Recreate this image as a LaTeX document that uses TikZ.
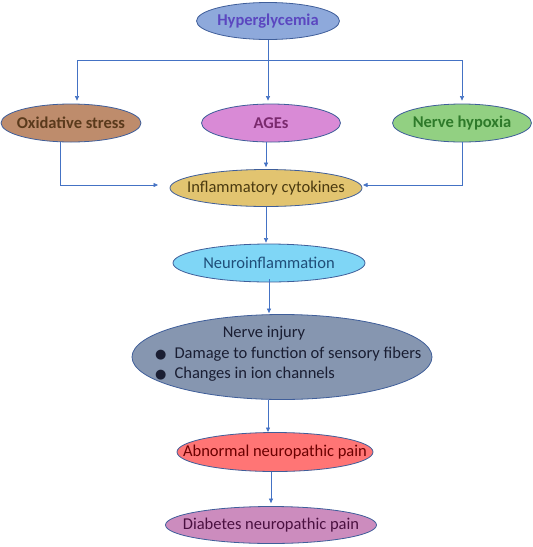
\documentclass[tikz,border=0pt]{standalone}
\usepackage{fontspec}
\setmainfont{Carlito}
\newfontfamily\dejavu{DejaVu Sans}
\usetikzlibrary{arrows.meta,shapes.geometric}
\definecolor{edge}{HTML}{3F5E9A}
\definecolor{conn}{HTML}{4472C4}
\definecolor{hypF}{HTML}{8EA9DB}\definecolor{hypT}{HTML}{5B47C0}
\definecolor{oxF}{HTML}{BE8C6C}\definecolor{oxT}{HTML}{5A3A1C}
\definecolor{agF}{HTML}{D98AD6}\definecolor{agT}{HTML}{7A2A6E}
\definecolor{nhF}{HTML}{92D082}\definecolor{nhT}{HTML}{2E7A2A}
\definecolor{infF}{HTML}{E2C470}\definecolor{infT}{HTML}{4A3A10}
\definecolor{neuF}{HTML}{7FD6F6}\definecolor{neuT}{HTML}{1F4E79}
\definecolor{injF}{HTML}{8696B0}\definecolor{injT}{HTML}{1A1E33}
\definecolor{abF}{HTML}{FF7575}\definecolor{abT}{HTML}{6B0000}
\definecolor{dbF}{HTML}{CC8CBE}\definecolor{dbT}{HTML}{4A1040}
\newcommand{\blt}{\raisebox{-0.5pt}{\dejavu\fontsize{13}{13}\selectfont ●}}
\begin{document}
\begin{tikzpicture}[x=1pt,y=-1pt,
  ell/.style={ellipse, draw=edge, line width=0.8pt, inner sep=0pt},
  bold/.style={font=\fontsize{16.5}{20}\selectfont\bfseries},
  reg/.style={font=\fontsize{16.5}{20}\selectfont},
  link/.style={draw=conn, line width=0.6pt},
  arr/.style={link, -{Triangle[length=4.5pt,width=4pt]}}]
\path[use as bounding box, fill=white] (0,0) rectangle (533,547);

\node[ell, bold, fill=hypF, text=hypT, minimum width=143pt, minimum height=37pt] (hyp) at (268,21) {\makebox[0pt]{Hyperglycemia}};
\node[ell, bold, fill=oxF, text=oxT, minimum width=140pt, minimum height=38pt] (ox) at (71,123) {\makebox[0pt]{Oxidative stress}};
\node[ell, bold, fill=agF, text=agT, minimum width=139pt, minimum height=38pt] (ag) at (271,123) {\makebox[0pt]{AGEs}};
\node[ell, bold, fill=nhF, text=nhT, minimum width=139pt, minimum height=38pt] (nh) at (462,123) {\makebox[0pt]{Nerve hypoxia}};
\node[ell, reg, fill=infF, text=infT, minimum width=192pt, minimum height=37pt] (inf) at (266,188) {\makebox[0pt]{Inflammatory cytokines}};
\node[ell, reg, fill=neuF, text=neuT, minimum width=192pt, minimum height=38pt] (neu) at (269,263) {\makebox[0pt]{Neuroinflammation}};
\node[ell, fill=injF, minimum width=300pt, minimum height=85pt] (inj) at (282,357) {};
\node[reg, text=injT, inner sep=0pt] (injt) at (264,333) {Nerve injury};
\node[reg, text=injT, inner sep=0pt, anchor=west, align=left] (injb) at (155,364)
  {\blt\hspace{8pt}Damage to function of sensory fibers\\\blt\hspace{8pt}Changes in ion channels};
\node[ell, reg, fill=abF, text=abT, minimum width=196pt, minimum height=39pt] (ab) at (275,452) {\makebox[0pt]{Abnormal neuropathic pain}};
\node[ell, reg, fill=dbF, text=dbT, minimum width=211pt, minimum height=37pt] (db) at (271,525) {\makebox[0pt]{Diabetes neuropathic pain}};

\coordinate (jM) at (268,60);
\coordinate (jL) at (77,60);
\coordinate (jR) at (462,60);
\coordinate (oxd) at (60,185);
\coordinate (infL) at (158,185);
\coordinate (infR) at (363,185);
\coordinate (injd) at (268,400);
\coordinate (abt) at (268,433);

\draw[link] (hyp.south) -- (jM);
\draw[link] (jL) -- (jR);
\draw[arr, shorten >=3pt] (jL) -- (jL |- ox.north);
\draw[arr, shorten >=3pt] (jM) -- (jM |- ag.north);
\draw[arr, shorten >=3pt] (jR) -- (nh.north);
\draw[arr] (oxd |- ox.south) -- (oxd) -- (infL);
\draw[arr] (nh.south) -- (nh.south |- infR) -- (infR);
\draw[arr, shorten >=2pt] (ag.south -| inf.north) -- (inf.north);
\draw[arr, shorten >=1pt] (inf.south) -- (neu.north -| inf.south);
\draw[arr, shorten >=1pt] ([yshift=3pt]neu.south) -- (inj.north -| neu.south);
\draw[arr, shorten >=1pt] (injd) -- (abt);
\draw[arr, shorten >=3pt] (ab.south -| db.north) -- (db.north);
\end{tikzpicture}
\end{document}
